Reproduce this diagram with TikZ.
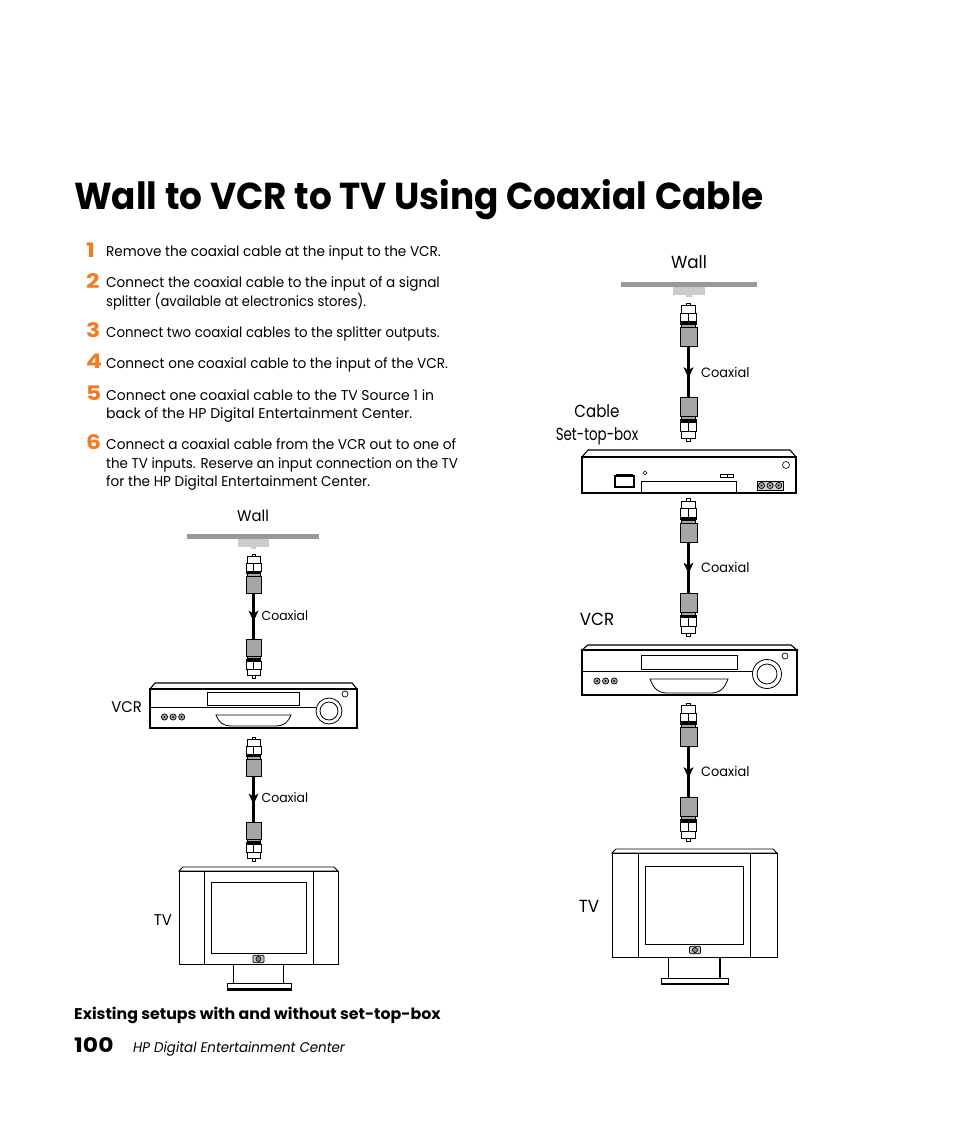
\documentclass[tikz,border=0pt]{standalone}
\usepackage{fontspec}
\usepackage{graphicx}
\setmainfont{Poppins}[FakeStretch=0.957]
\newfontfamily\titlefont{Poppins}[FakeStretch=0.956]
\newfontfamily\numfont{Poppins}[FakeStretch=1.17]
\newfontfamily\capfont{Poppins}[FakeStretch=1.02]
\definecolor{wallc}{HTML}{999999}
\definecolor{stubc}{HTML}{CCCCCC}
\definecolor{plugc}{HTML}{A6A6A6}
\definecolor{stepc}{HTML}{F47B20}
\tikzset{
 body/.style={draw=black,line width=1.1pt,fill=white},
 tvbody/.style={draw=black,line width=.9pt,fill=white},
 thin part/.style={draw=black,line width=0.8pt,fill=white},
 line label/.style={anchor=base west,inner sep=0pt,font=\fontsize{14.2}{16}\selectfont},
 num label/.style={anchor=base west,inner sep=0pt,text=stepc,font=\numfont\fontsize{20}{22}\selectfont\bfseries},
 coax label/.style={anchor=base west,inner sep=0pt,font=\fontsize{13}{15}\selectfont},
 coax label big/.style={anchor=base west,inner sep=0pt,font=\fontsize{13.5}{15}\selectfont},
 dev label/.style={anchor=base,inner sep=0pt,font=\fontsize{17.5}{20}\selectfont},
 small label/.style={anchor=base,inner sep=0pt,font=\fontsize{15.5}{18}\selectfont},
 plug/.pic={
  \draw[line width=.7pt,fill=white] (-1.5,0) rectangle (1.5,2.5);
  \draw[line width=.8pt,fill=white] (-6.5,2.5) rectangle (6.5,9);
  \draw[line width=.9pt,fill=white] (-7.5,9) rectangle (7.5,17);
  \draw[line width=.8pt] (0,9)--(0,17);
  \fill[black] (-7.5,17) rectangle (7.5,19.5);
  \draw[line width=.5pt,fill=plugc] (-6.5,19.5) rectangle (6.5,22);
  \draw[draw=black,line width=.6pt,fill=plugc] (-7.5,22) rectangle (7.5,39);
 },
 dots/.pic={
  \foreach \k in {0,1,2}{\draw[line width=.7pt,fill=gray!70] (\k*8.6,0) circle (3.1);
   \fill[black] (\k*8.6,0) circle (1);}
 },
 wall/.pic={
  \fill[stubc] (-15.5,5) rectangle (15.5,13);
  \fill[stubc] (-2.5,13) rectangle (2.5,15);
  \fill[wallc] (-66,0) rectangle (66,5);
 },
 hplogo/.pic={
  \draw[line width=.8pt,fill=gray!45,rounded corners=1.2pt] (-5.5,-3.8) rectangle (5.5,3.8);
  \draw[line width=.6pt,fill=gray] (0,0) circle (2.6);
 },
}
\newcommand{\coax}[4]{% name, x, y, scale
 \pic[scale=#4] at (#2,#3) {plug};
 \pic[xscale=#4,yscale=-#4] at ($(#2,#3)+(0,124*#4)$) {plug};
 \coordinate (#1a) at ($(#2,#3)+(0,39*#4)$);
 \coordinate (#1b) at ($(#2,#3)+(0,85*#4)$);
 \coordinate (#1m) at ($(#2,#3)+(0,67.5*#4)$);
 \draw[line width=3pt] (#1a)--(#1b);
 \fill (#1m) -- ++(-5,-11) -- ++(5,3) -- ++(5,-3) -- cycle;
}
\usetikzlibrary{calc}
\begin{document}
\begin{tikzpicture}[x=1pt,y=-1pt,line join=miter]
\useasboundingbox (0,0) rectangle (954,1123);
\fill[white] (0,0) rectangle (954,1123);
\node[anchor=base west,inner sep=0pt,font=\titlefont\fontsize{37.5}{40}\selectfont\bfseries] (title) at (74,210) {Wall to VCR to TV Using Coaxial Cable};
% steps
\node[num label] (n1) at (86,257) {1};
\node[line label] (t1) at (106,256) {Remove the coaxial cable at the input to the VCR.};
\node[num label] (n2) at (86,288) {2};
\node[line label] (t2a) at (106,287) {Connect the coaxial cable to the input of a signal};
\node[line label] (t2b) at (106,306) {\scalebox{.967}[1]{splitter (available at electronics stores).}};
\node[num label] (n3) at (86,337) {3};
\node[line label] (t3) at (106,337) {\scalebox{.982}[1]{Connect two coaxial cables to the splitter outputs.}};
\node[num label] (n4) at (86,368) {4};
\node[line label] (t4) at (106,368) {\scalebox{1.005}[1]{Connect one coaxial cable to the input of the VCR.}};
\node[num label] (n5) at (86,400) {5};
\node[line label] (t5a) at (106,400) {\scalebox{1.027}[1]{Connect one coaxial cable to the TV Source 1 in}};
\node[line label] (t5b) at (106,418) {\scalebox{1.034}[1]{back of the HP Digital Entertainment Center.}};
\node[num label] (n6) at (86,449) {6};
\node[line label] (t6a) at (106,449) {\scalebox{1.006}[1]{Connect a coaxial cable from the VCR out to one of}};
\node[line label] (t6b) at (106,468) {\scalebox{.988}[1]{the TV inputs. Reserve an input connection on the TV}};
\node[line label] (t6c) at (106,486) {for the HP Digital Entertainment Center.};
% left column
\node[small label] (lwall) at (253,521) {Wall};
\pic at (253,534) {wall};
\coax{c1}{253.5}{554}{1}
\node[coax label] (lc1) at (261.5,620) {Coaxial};
\node[small label,anchor=base east] (lvcr) at (142,712) {VCR};
% left VCR
\begin{scope}
 \draw[body] (150,689)--(155,683)--(352,683)--(357,689)--cycle;
 \draw[body] (150,689) rectangle (357,728);
 \draw[line width=.8pt] (150,707)--(316,707);
 \draw[thin part] (207,692) rectangle (299,705);
 \draw[thin part] (216,715)--(291,715) .. controls (288,722) and (285,726) .. (275,726)--(232,726) .. controls (222,726) and (219,722) .. (216,715)--cycle;
 \draw[line width=.8pt,fill=white] (329,711) circle (13);
 \draw[line width=.8pt,fill=white] (329,711) circle (9);
 \draw[line width=.7pt] (345,694) circle (3);
 \pic at (164.5,717) {dots};
\end{scope}
\coax{c2}{253.5}{737}{1}
\node[coax label] (lc2) at (261.5,802) {Coaxial};
\node[small label,anchor=base east] (ltv) at (172,925) {TV};
% left TV
\begin{scope}
 \draw[tvbody] (179,871)--(183,867)--(334,867)--(338,871)--cycle;
 \draw[tvbody] (179,871) rectangle (338,964);
 \draw[line width=.8pt] (204,871)--(204,964) (313,871)--(313,964);
 \draw[line width=.9pt] (211,882) rectangle (306,953);
 \pic at (258.5,959) {hplogo};
 \draw[line width=1.6pt] (233.5,964)--(233.5,983);
 \draw[line width=.8pt] (283,964)--(283,983);
 \draw[line width=.8pt] (227,983) rectangle (291,990);
 \fill (227,988) rectangle (291,990.5);
\end{scope}
% right column
\node[dev label] (rwall) at (689,268) {Wall};
\pic[scale=1.03] at (689,282) {wall};
\coax{c3}{688.5}{303}{1.113}
\node[coax label big] (rc1) at (701,377) {Coaxial};
\node[dev label] (rcab) at (597,417) {\scalebox{.9}[1]{Cable}};
\node[dev label] (rstb) at (597,440) {\scalebox{.8}[1]{Set-top-box}};
% STB
\begin{scope}
 \draw[body] (582,457)--(588,450)--(790,450)--(796,457)--cycle;
 \draw[body] (582,457) rectangle (796,493);
 \draw[line width=1.1pt] (615,476) rectangle (634,487);
 \draw[line width=.5pt] (616,474)--(633,474);
 \draw[line width=.6pt] (645,471)--(647,473)--(645,475)--(643,473)--cycle;
 \draw[line width=.8pt] (641,493)--(641,481)--(736,481)--(736,493);
 \draw[line width=.7pt] (720,474.5) rectangle (727,477.5) (727,474.5) rectangle (733,477.5);
 \draw[line width=.6pt] (786,465) circle (3.5);
 \draw[line width=.7pt,fill=gray!35] (757,481) rectangle (783,490);
 \pic at (761.5,485.5) {dots};
\end{scope}
\coax{c4}{688.5}{498.5}{1.113}
\node[coax label big] (rc2) at (701,572) {Coaxial};
\node[dev label] (rvcr) at (597,625) {VCR};
% right VCR
\begin{scope}
 \draw[body] (582,650)--(588,645)--(791,645)--(797,650)--cycle;
 \draw[body] (582,650) rectangle (797,695);
 \draw[line width=.8pt] (582,671)--(753,671);
 \draw[thin part] (641,655) rectangle (737,669);
 \draw[thin part] (650,679)--(728,679) .. controls (725,687) and (721,693) .. (711,693)--(667,693) .. controls (657,693) and (653,687) .. (650,679)--cycle;
 \draw[line width=.8pt,fill=white] (767,674) circle (14.5);
 \draw[line width=.8pt,fill=white] (767,674) circle (10);
 \draw[line width=.7pt] (785,656) circle (3);
 \pic at (597,681) {dots};
\end{scope}
\coax{c5}{688.5}{703}{1.113}
\node[coax label big] (rc3) at (701,776) {Coaxial};
\node[dev label] (rtv) at (589,912) {TV};
% right TV
\begin{scope}
 \draw[tvbody] (612,853)--(616,849)--(773,849)--(777,853)--cycle;
 \draw[tvbody] (612,853) rectangle (777,957);
 \draw[line width=.8pt] (638,853)--(638,957) (750,853)--(750,957);
 \draw[line width=.9pt] (645,866) rectangle (743,944);
 \pic at (695,950) {hplogo};
 \draw[line width=.8pt] (668,957)--(668,978);
 \draw[line width=1.6pt] (720,957)--(720,978);
 \draw[line width=.8pt] (661,978) rectangle (728,984);
 \fill (661,983) rectangle (728,985);
\end{scope}
% bottom
\node[anchor=base west,inner sep=0pt,font=\capfont\fontsize{15.5}{18}\selectfont\bfseries] (cap) at (74,1019) {Existing setups with and without set-top-box};
\node[anchor=base west,inner sep=0pt,font=\numfont\fontsize{20}{22}\selectfont\bfseries] (pn) at (74,1052) {100};
\node[anchor=base west,inner sep=0pt,font=\fontsize{14}{16}\selectfont\itshape] (foot) at (133,1052) {HP Digital Entertainment Center};
\end{tikzpicture}
\end{document}
